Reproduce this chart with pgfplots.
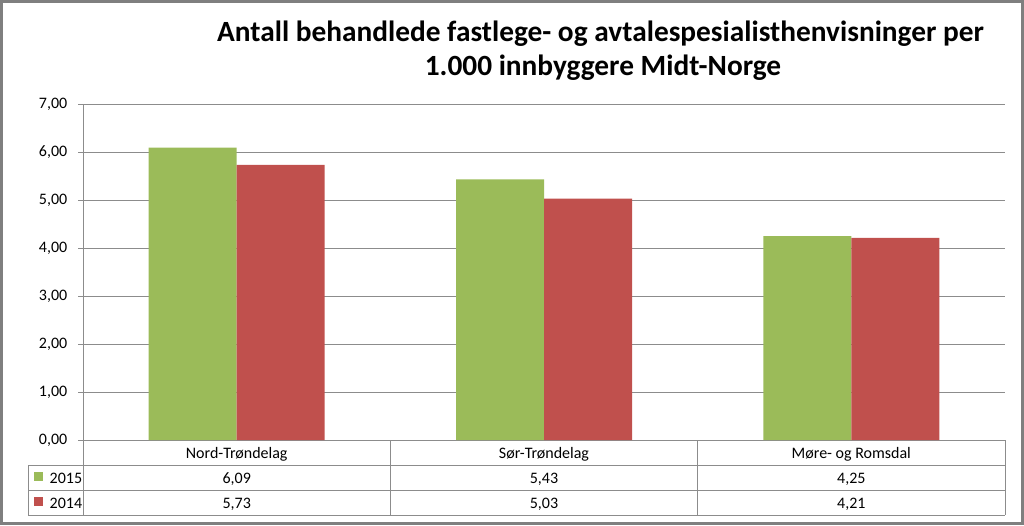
\documentclass[border=0pt]{standalone}
\usepackage{pgfplots}
\pgfplotsset{compat=1.18}
\usepackage{fontspec}
\setmainfont{Carlito}
\definecolor{g15}{HTML}{9BBB59}
\definecolor{r14}{HTML}{C0504D}
\definecolor{ln}{HTML}{8C8C8C}
\definecolor{frm}{HTML}{7F7F7F}
\begin{document}
\begin{tikzpicture}[x=0.75pt,y=0.75pt]
\useasboundingbox (0,0) rectangle (1024,525);
\draw[frm, line width=2.25pt] (1.5,1.5) rectangle (1022.5,523.5);
% title, two lines
\node[font=\fontsize{22}{26}\selectfont\bfseries, anchor=base] at (600.5,483) {Antall behandlede fastlege- og avtalespesialisthenvisninger per};
\node[font=\fontsize{22}{26}\selectfont\bfseries, anchor=base] at (603,449) {1.000 innbyggere Midt-Norge};
\begin{axis}[
    at={(62.25pt,63.75pt)}, anchor=south west,
    scale only axis, width=691.5pt, height=252pt,
    ybar=0pt, bar width=66pt,
    xmin=-0.5, xmax=2.5, ymin=0, ymax=7,
    ytick={0,...,7}, xtick=\empty,
    axis lines*=left,
    axis line style={draw=ln, line width=0.75pt, -},
    ymajorgrids,
    grid style={ln, line width=0.75pt},
    y tick style={ln, line width=0.75pt},
    tick align=outside, major tick length=3.75pt,
    /pgf/number format/assume math mode=true,
    yticklabel style={/pgf/number format/.cd, use comma, fixed, fixed zerofill, precision=2, /tikz/.cd,
      font=\fontsize{12}{14}\selectfont, xshift=-4.5pt},
    clip=false,
  ]
  \addplot[fill=g15, draw=none] coordinates {(0,6.09) (1,5.43) (2,4.25)};
  \addplot[fill=r14, draw=none] coordinates {(0,5.73) (1,5.03) (2,4.21)};
\end{axis}
% data table under the axis
\draw[ln, line width=0.75pt]
  (28,60) -- (1005,60)
  (28,35) -- (1005,35)
  (28,10) -- (1005,10)
  (28,60) -- (28,10)
  (83,85) -- (83,10)
  (390.3,85) -- (390.3,10)
  (697.7,85) -- (697.7,10)
  (1005,85) -- (1005,10);
\begin{scope}[every node/.style={font=\fontsize{12}{14}\selectfont, anchor=mid}]
  \node at (236.7,70) {Nord-Trøndelag};
  \node at (544,70) {Sør-Trøndelag};
  \node at (851.3,70) {Møre- og Romsdal};
  \node at (236.7,45) {6,09};
  \node at (544,45) {5,43};
  \node at (851.3,45) {4,25};
  \node at (236.7,20) {5,73};
  \node at (544,20) {5,03};
  \node at (851.3,20) {4,21};
  \node[anchor=mid west] at (45,45) {2015};
  \node[anchor=mid west] at (45,20) {2014};
\end{scope}
\fill[g15] (34,44) rectangle (43,53);
\fill[r14] (34,19) rectangle (43,28);
\end{tikzpicture}
\end{document}
